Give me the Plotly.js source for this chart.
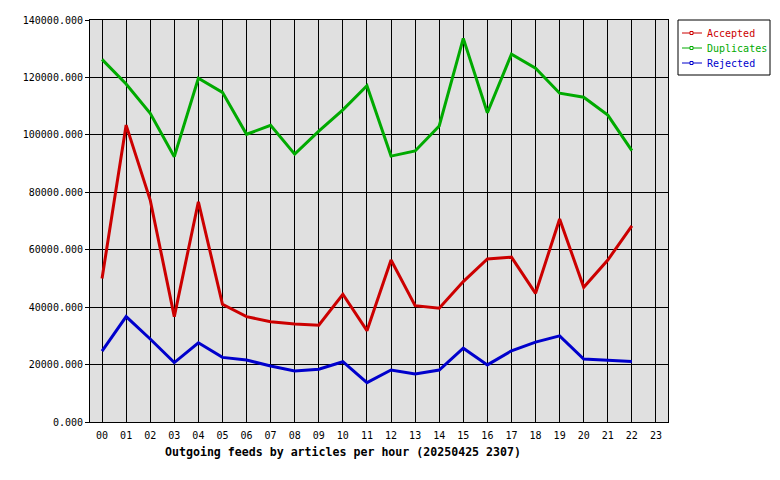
<!DOCTYPE html>
<html><head><meta charset="utf-8">
<script src="https://cdn.plot.ly/plotly-3.0.1.min.js"></script>
<style>body{margin:0;background:#fff}#c{width:780px;height:480px}</style>
</head><body><div id="c"></div>
<script>
const hours = ["00","01","02","03","04","05","06","07","08","09","10","11","12","13","14","15","16","17","18","19","20","21","22","23"];
const accepted = [50000,103400,77300,36700,76700,41000,36700,34900,34100,33700,44500,31800,56400,40500,39600,48900,56800,57400,44800,70700,46900,56400,68300];
const duplicates = [126300,117700,107500,92400,119700,114800,100200,103300,93300,101300,108700,117100,92600,94400,103100,133600,107700,128100,123200,114500,113100,106900,94500];
const rejected = [24700,36700,28900,20700,27600,22500,21600,19500,17800,18400,21000,13700,18100,16700,18100,25700,19900,24800,27800,30000,21900,21600,21100];
const seriesNames = ["Accepted","Duplicates","Rejected"];
const colors = ["#cc0000","#00aa00","#0000cc"];
const yTicks = [0,20000,40000,60000,80000,100000,120000,140000];
const chartTitle = "Outgoing feeds by articles per hour (20250425 2307)";

const mono = "DejaVu Sans Mono, Liberation Mono, monospace";
const W = 780, H = 480, L = 90, R = 112, T = 20, B = 58;
const pw = W - L - R, ph = H - T - B;
const px = x => (x - L) / pw;
const py = y => (H - B - y) / ph;

const data = [];
[accepted, duplicates, rejected].forEach((vals, i) => {
  data.push({x: hours.slice(0, vals.length), y: vals, type: "scatter", mode: "lines",
    name: seriesNames[i], line: {color: colors[i], width: 3}, showlegend: false, hoverinfo: "skip"});
});

// legend drawn as a boxed key beside the plot
const shapes = [{type: "rect", xref: "paper", yref: "paper",
  x0: px(678), x1: px(770), y0: py(75), y1: py(20),
  line: {color: "#000", width: 1}, fillcolor: "#fff", layer: "above"}];
const annotations = [];
seriesNames.forEach((n, i) => {
  const yy = 33 + 15 * i;
  shapes.push({type: "line", xref: "paper", yref: "paper",
    x0: px(682), x1: px(702), y0: py(yy), y1: py(yy),
    line: {color: colors[i], width: 1}});
  shapes.push({type: "rect", xref: "paper", yref: "paper",
    x0: px(690), x1: px(693), y0: py(yy + 1.5), y1: py(yy - 1.5),
    line: {color: colors[i], width: 1}, fillcolor: "#fff"});
  annotations.push({xref: "paper", yref: "paper", x: px(705), y: py(yy),
    xanchor: "left", yanchor: "middle", showarrow: false, text: n,
    font: {family: mono, size: 10, color: colors[i]}});
});

const layout = {
  width: W, height: H,
  margin: {l: L, r: R, t: T, b: B, autoexpand: false},
  paper_bgcolor: "#ffffff", plot_bgcolor: "#e0e0e0",
  font: {family: mono, size: 10, color: "#000"},
  showlegend: false,
  title: {text: chartTitle, xref: "container", yref: "container",
    x: 343 / W, xanchor: "center", y: (H - 452) / H, yanchor: "middle",
    font: {family: mono, size: 11.6, weight: "bold", color: "#000"}},
  xaxis: {type: "category", categoryarray: hours, range: [-0.5, 23.5],
    showgrid: true, gridcolor: "#000", gridwidth: 1,
    showline: true, linecolor: "#000", linewidth: 1, mirror: true,
    ticks: "", ticklabelstandoff: 4, tickfont: {family: mono, size: 10}, zeroline: false,
    automargin: false},
  yaxis: {range: [0, 140000], tickvals: yTicks,
    ticktext: yTicks.map(v => v.toFixed(3)),
    showgrid: true, gridcolor: "#000", gridwidth: 1,
    showline: true, linecolor: "#000", linewidth: 1, mirror: true,
    ticks: "outside", ticklen: 4, tickcolor: "#000", zeroline: false,
    automargin: false, tickfont: {family: mono, size: 10}},
  shapes: shapes,
  annotations: annotations
};
Plotly.newPlot("c", data, layout, {staticPlot: true});
</script></body></html>
